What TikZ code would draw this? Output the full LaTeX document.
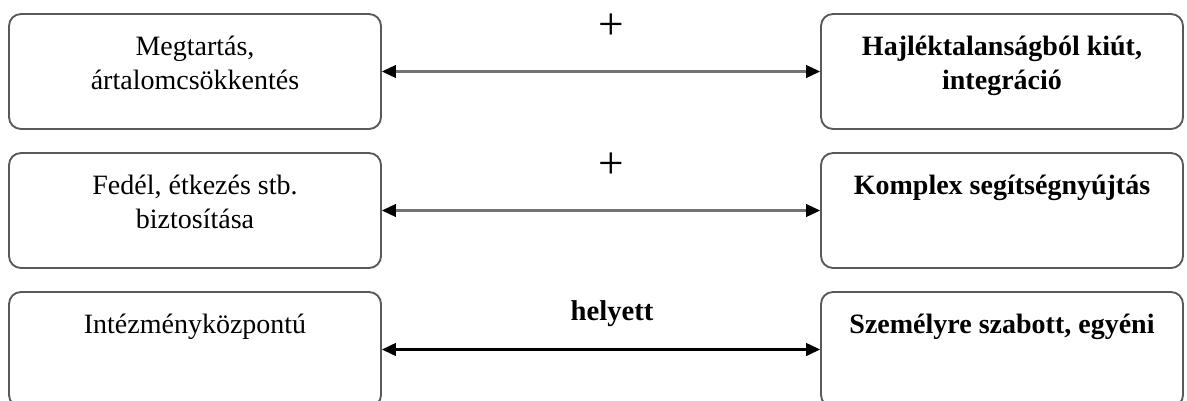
\documentclass[tikz,border=0pt]{standalone}
\usepackage{fontspec}
\setmainfont{Liberation Serif}
\usetikzlibrary{arrows.meta}

\tikzset{
  box/.style={draw=black!65, line width=1.4, rounded corners=9, minimum height=86.25pt, inner sep=0pt},
  lbox/.style={box, minimum width=279pt},
  rbox/.style={box, minimum width=271.5pt},
  txt/.style={anchor=base, align=center, inner sep=0.75pt, font=\fontsize{21}{25.5}\selectfont},
  btxt/.style={txt, font=\bfseries\fontsize{21}{25.5}\selectfont},
  link/.style={{Triangle[length=10.5pt,width=9.5pt,fill=black,color=black]}-{Triangle[length=10.5pt,width=9.5pt,fill=black,color=black]}, draw=black!55, line width=1.6},
}

\begin{document}
\begin{tikzpicture}[x=0.75pt,y=0.75pt,yscale=-1,xscale=1]
\useasboundingbox (0,0) rectangle (1187,400);
%Rounded boxes, left column
\node[lbox] (megtartas) at (195,71.5) {};
\node[lbox] (fedel) at (195,210.5) {};
\node[lbox] (intezmeny) at (195,349.5) {};
%Rounded boxes, right column
\node[rbox] (kiut) at (1002,71.5) {};
\node[rbox] (komplex) at (1002,210.5) {};
\node[rbox] (egyeni) at (1002,349.5) {};
%Double arrows
\draw[link] (megtartas) -- (kiut);
\draw[link] (fedel) -- (komplex);
\draw[link, draw=black, line width=1.8] (intezmeny) -- (egyeni);
% Text Node
\node[txt] (tmegtartas) at (195,89) {Megtartás,\\ártalomcsökkentés};
% Text Node
\node[txt] (tfedel) at (195,228) {Fedél, étkezés stb.\\biztosítása};
% Text Node
\node[txt] (tintezmeny) at (195,333) {Intézményközpontú};
% Text Node
\node[btxt] (tkiut) at (1002,89) {Hajléktalanságból kiút,\\integráció};
% Text Node
\node[btxt] (tkomplex) at (1002,194) {Komplex segítségnyújtás};
% Text Node
\node[btxt] (tegyeni) at (1002,333) {Személyre szabott, egyéni};
% Text Node
\node[anchor=center, inner sep=0.75pt, font=\fontsize{34}{34}\selectfont] (plusa) at (611,27) {+};
% Text Node
\node[anchor=center, inner sep=0.75pt, font=\fontsize{34}{34}\selectfont] (plusb) at (611,166) {+};
% Text Node
\node[btxt, font=\bfseries\fontsize{21.5}{25.5}\selectfont] (helyett) at (612,320) {helyett};
\end{tikzpicture}
\end{document}
